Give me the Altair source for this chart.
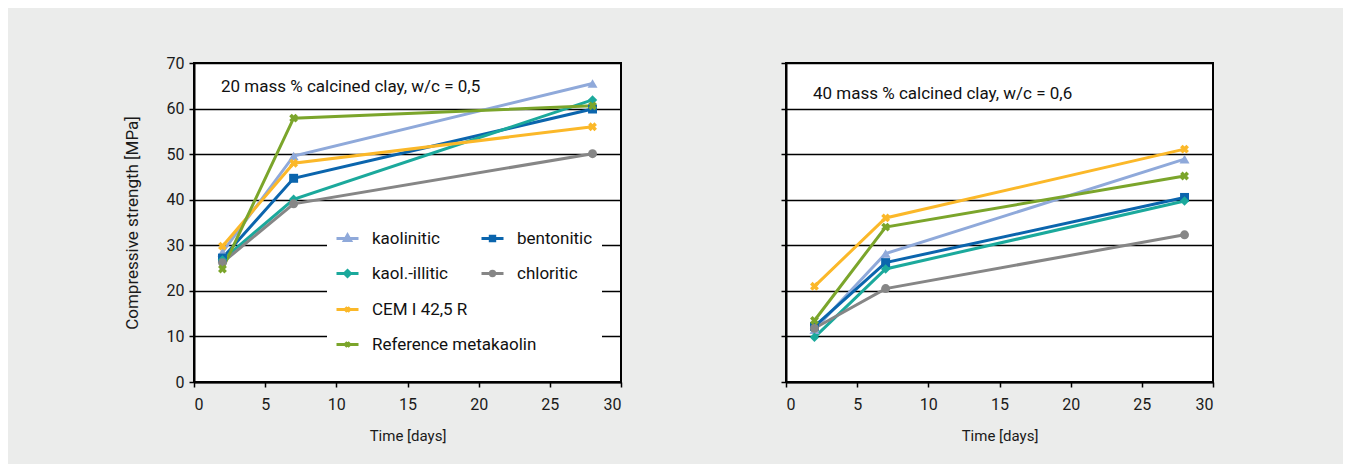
import altair as alt
import pandas as pd

# ---------------- data ----------------
days = [2, 7, 28]
series_names = ["kaolinitic", "bentonitic", "kaol.-illitic", "chloritic",
                "CEM I 42,5 R", "Reference metakaolin"]
colors = ["#8fa9da", "#0b65ad", "#1ba99c", "#868686", "#fbb829", "#7ba52b"]

# 20 mass % calcined clay, w/c = 0,5
kaolinitic_20 = [28.5, 49.6, 65.5]
bentonitic_20 = [27.2, 44.7, 59.9]
kaol_illitic_20 = [26.8, 40.1, 61.9]
chloritic_20 = [26.2, 39.1, 50.1]
cem_20 = [29.8, 48.0, 56.0]
metakaolin_20 = [24.8, 57.9, 60.6]

# 40 mass % calcined clay, w/c = 0,6
kaolinitic_40 = [11.5, 28.2, 48.9]
bentonitic_40 = [12.2, 26.2, 40.5]
kaol_illitic_40 = [9.8, 24.8, 39.7]
chloritic_40 = [11.8, 20.5, 32.3]
cem_40 = [21.0, 36.0, 51.1]
metakaolin_40 = [13.5, 34.0, 45.2]

x_ticks = [0, 5, 10, 15, 20, 25, 30]
y_ticks = [0, 10, 20, 30, 40, 50, 60, 70]
title_20 = "20 mass % calcined clay, w/c = 0,5"
title_40 = "40 mass % calcined clay, w/c = 0,6"
x_title = "Time [days]"
y_title = "Compressive strength [MPa]"

# ---------------- styling ----------------
FONT = "Roboto"
marker_shapes = ["triangle-up", "square", "diamond", "circle", "cross", "cross"]
marker_angles = [0, 0, 0, 0, 45, 45]
marker_sizes = [100, 80, 90, 80, 80, 80]

DUMMY = " "
legend_domain = series_names[:5] + [DUMMY] + series_names[5:]
legend_colors = colors[:5] + ["rgba(0,0,0,0)"] + colors[5:]
legend_paths = [
    "M-1,0H1M0,-0.32L0.28,0.18L-0.28,0.18Z",
    "M-1,0H1M-0.2,-0.2H0.2V0.2H-0.2Z",
    "M-1,0H1M0,-0.27L0.27,0L0,0.27L-0.27,0Z",
    "M-1,0H1M-0.2,0A0.2,0.2 0 1 0 0.2,0A0.2,0.2 0 1 0 -0.2,0Z",
    "M-1,0H1M-0.2,-0.2L0.2,0.2M-0.2,0.2L0.2,-0.2",
    "M0,0L0,0",
    "M-1,0H1M-0.2,-0.2L0.2,0.2M-0.2,0.2L0.2,-0.2",
]


def make_df(values):
    rows = []
    for name, vals in zip(series_names, values):
        for d, v in zip(days, vals):
            rows.append({"series": name, "day": d, "strength": v})
    return pd.DataFrame(rows)


df20 = make_df([kaolinitic_20, bentonitic_20, kaol_illitic_20, chloritic_20, cem_20, metakaolin_20])
df40 = make_df([kaolinitic_40, bentonitic_40, kaol_illitic_40, chloritic_40, cem_40, metakaolin_40])

color_scale = alt.Scale(domain=legend_domain, range=legend_colors)


def panel(df, title, first):
    x = alt.X("day:Q", scale=alt.Scale(domain=[0, 30], nice=False),
              axis=alt.Axis(values=x_ticks, title=x_title, grid=False, format="d",
                            labelPadding=9, titlePadding=16, titleFontSize=15))
    if first:
        yaxis = alt.Axis(values=y_ticks, title=y_title, grid=True, format="d",
                         labelPadding=5, titlePadding=25, titleFontSize=17)
    else:
        yaxis = alt.Axis(values=y_ticks, title=None, grid=True, labels=False)
    y = alt.Y("strength:Q", scale=alt.Scale(domain=[0, 70], nice=False), axis=yaxis)
    color = alt.Color("series:N", scale=color_scale, legend=None)

    base = alt.Chart(df)
    layers = []
    if first:
        # legend layer first so its explicit legend wins the merge; draws no marks
        leg = alt.Legend(title=None, orient="none", legendX=133, legendY=155,
                         direction="horizontal", columns=2, gridAlign="none",
                         columnPadding=-62, rowPadding=14, labelLimit=400,
                         symbolSize=484, symbolStrokeWidth=3, labelFontSize=17,
                         labelFont=FONT, labelColor="#111111", labelOffset=12,
                         padding=8, fillColor="white", strokeColor="white")
        layers.append(
            base.transform_filter("false")
            .mark_point(filled=False, opacity=1, strokeWidth=3)
            .encode(x=x, y=y,
                    color=alt.Color("series:N", scale=color_scale, legend=leg),
                    shape=alt.Shape("series:N",
                                    scale=alt.Scale(domain=legend_domain, range=legend_paths),
                                    legend=leg))
        )
    layers.append(base.mark_line(strokeWidth=3).encode(x=x, y=y, color=color))
    for name, shp, ang, sz in zip(series_names, marker_shapes, marker_angles, marker_sizes):
        layers.append(
            base.transform_filter(alt.datum.series == name)
            .mark_point(shape=shp, angle=ang, size=sz, filled=True, opacity=1)
            .encode(x=x, y=y, color=color)
        )
    return alt.layer(*layers).properties(
        width=427, height=319,
        title=alt.TitleParams(text=title, anchor="start", frame="group", orient="top",
                              offset=0, dx=27, dy=49, baseline="middle", fontSize=17,
                              fontWeight="normal", font=FONT, color="#111111"),
    )


chart = (
    alt.hconcat(panel(df20, title_20, True), panel(df40, title_40, False), spacing=156)
    .resolve_scale(color="independent", shape="independent")
    .resolve_legend(color="independent", shape="independent")
    .properties(background="#ebeceb",
                padding={"left": 114, "top": 46, "right": 128, "bottom": 20})
    .configure_view(fill="white", stroke="black", strokeWidth=2)
    .configure_axis(domainColor="black", domainWidth=2, tickColor="black", tickWidth=1.5,
                    tickSize=5, gridColor="black", gridWidth=1.7,
                    labelFont=FONT, labelFontSize=16, labelColor="#1a1a1a",
                    titleFont=FONT, titleFontWeight="normal", titleColor="#1a1a1a")
)

chart.save("out.html", embed_options={"renderer": "svg", "actions": False})
